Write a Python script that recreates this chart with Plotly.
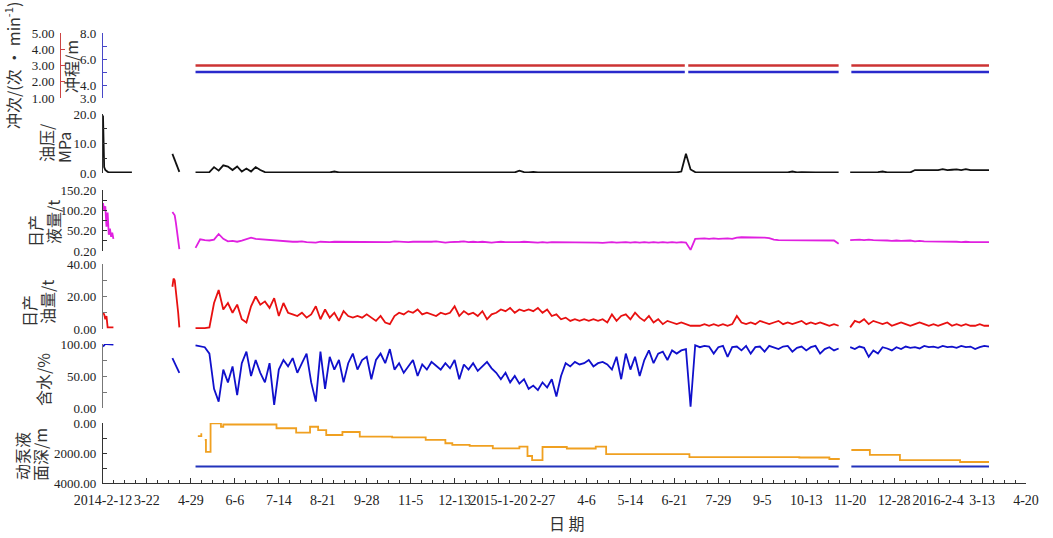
import plotly.graph_objects as go
import pandas as pd

W, H = 1053, 538

# ---------------- axis ticks ----------------
tick_dates = ['2014-02-12', '2014-03-22', '2014-04-29', '2014-06-06', '2014-07-14', '2014-08-21',
              '2014-09-28', '2014-11-05', '2014-12-13', '2015-01-20', '2015-02-27', '2015-04-06',
              '2015-05-14', '2015-06-21', '2015-07-29', '2015-09-05', '2015-10-13', '2015-11-20',
              '2015-12-28', '2016-02-04', '2016-03-13', '2016-04-20']
tick_labels = ['2014-2-12', '3-22', '4-29', '6-6', '7-14', '8-21', '9-28', '11-5', '12-13',
               '2015-1-20', '2-27', '4-6', '5-14', '6-21', '7-29', '9-5', '10-13', '11-20',
               '12-28', '2016-2-4', '3-13', '4-20']

# ---------------- data ----------------
main_start = '2014-05-03'   # sampled every 4 days
tail_start = '2015-11-20'   # sampled every 4 days

# early short records
early1_dates = ['2014-02-12', '2014-02-13', '2014-02-14', '2014-02-15', '2014-02-16',
                '2014-02-17', '2014-02-18', '2014-02-19', '2014-02-20', '2014-02-21']
early2_dates = ['2014-04-13', '2014-04-14', '2014-04-15', '2014-04-16', '2014-04-17',
                '2014-04-18', '2014-04-19']

pres_early1 = [19.5, 2.0, 1.0, 0.6, 0.4, 0.3, 0.3, 0.2, 0.2, 0.2]
pres_early1_end = ['2014-03-09', 0.2]
pres_early2 = [6.5, 5.5, 4.8, 3.5, 2.7, 1.2, 0.4]
liq_early1 = [118, 100, 110, 60, 95, 40, 55, 35, 45, 30]
liq_early2 = [96, 92, 88, 70, 50, 30, 5]
oil_early1 = [10, 9, 6, 8, 1, 1, 1, 1, 1, 1]
oil_early2 = [26, 31, 30, 23, 20, 10, 1]
wc_early1 = [96, 99, 100, 100, 100, 100, 99, 99, 99, 99]
wc_early2 = [78, 74, 70, 66, 62, 58, 55]

oil_main = [0.5, 0.5, 0.6, 1, 16, 24, 12, 16, 10, 15, 6, 4, 14, 20, 15, 17, 13, 19, 8, 16,
            10, 9, 8, 10, 7, 9, 14, 6, 12, 7, 10, 5, 11, 8, 7, 8, 7, 9, 7, 5,
            8, 4, 3, 8, 10, 9, 11, 10, 12, 9, 10, 9, 8, 10, 9, 10, 14, 8, 11, 9,
            10, 8, 11, 6, 9, 10, 12, 11, 13, 10, 12, 11, 12, 11, 13, 10, 12, 8, 9, 6,
            7, 5, 6, 5, 6, 5, 6, 5, 6, 4, 9, 5, 8,
            9, 6, 10, 7, 5, 8, 4, 6, 3, 5, 4, 3, 4, 3,
            2, 2, 2, 3, 2, 3, 2, 3, 2, 3, 8, 4, 3, 4, 3, 5, 4, 3, 4, 5,
            3, 4, 3, 4, 5, 3, 4, 3, 4, 3, 2, 3, 2]
oil_tail = [1, 5, 4, 6, 3, 5, 4, 3, 4, 2, 3, 4, 3, 2, 3, 4, 3, 2, 3, 2,
            3, 4, 2, 3, 2, 3, 2, 2, 3, 2, 2]

liq_main = [8, 29, 27, 26, 28, 42, 30, 24, 25, 23, 26, 29, 33, 30, 29, 28, 27, 26, 25, 24,
            24, 23, 23, 24, 22, 22, 21, 23, 22, 22, 23, 23, 22, 22, 23, 22, 22, 23, 22, 22,
            23, 22, 22, 24, 23, 22, 22, 23, 23, 22, 22, 23, 24, 23, 21, 22, 22, 23, 24, 22,
            23, 22, 23, 22, 21, 22, 23, 22, 22, 21, 22, 23, 22, 21, 21, 22, 21, 22, 22, 21,
            22, 21, 22, 21, 21, 22, 22, 21, 20, 21, 22, 21, 22,
            22, 21, 22, 21, 22, 21, 22, 21, 22, 21, 22, 21, 22, 21,
            3, 30, 31, 31, 30, 31, 30, 31, 31, 30, 33, 34, 34, 34, 33, 34, 33, 32, 28, 27,
            27, 26, 27, 26, 27, 26, 27, 26, 27, 26, 27, 26, 18]
liq_tail = [27, 28, 28, 27, 28, 27, 27, 26, 26, 25, 26, 25, 25, 26, 24, 25, 24, 24, 23, 24,
            23, 23, 24, 23, 22, 23, 22, 22, 23, 22, 22]

wc_main = [98, 97, 95, 85, 30, 10, 60, 40, 65, 20, 70, 88, 50, 75, 55, 40, 70, 5, 60, 75,
           65, 78, 55, 70, 85, 40, 10, 88, 30, 80, 60, 75, 40, 70, 85, 60, 75, 80, 45, 75,
           85, 70, 92, 60, 70, 55, 65, 75, 50, 68, 60, 72, 66, 60, 70, 62, 75, 45, 68, 60,
           70, 58, 65, 72, 62, 55, 45, 55, 40, 50, 38, 45, 30, 35, 28, 40, 32, 45, 18, 50,
           70, 65, 72, 68, 70, 75, 65, 70, 72, 68, 60, 80, 45,
           85, 60, 80, 50, 75, 90, 70, 85, 88, 75, 90, 85, 90, 92, 2,
           98, 95, 97, 96, 85, 95, 97, 80, 95, 96, 90, 97, 85, 95, 96, 88, 97, 95, 92, 96,
           97, 88, 94, 96, 90, 95, 97, 85, 92, 95, 90, 93]
wc_tail = [95, 92, 96, 94, 80, 90, 85, 95, 93, 90, 95, 92, 96, 94, 95, 93, 97, 95, 96, 94,
           97, 95, 96, 94, 97, 95, 96, 92, 95, 97, 96]

pres_main = [0.2, 0.2, 0.2, 0.3, 2.0, 0.8, 2.6, 2.2, 1.0, 2.2, 0.5, 1.5, 0.5, 2.0, 1.0, 0.3,
             0.2, 0.2, 0.3, 0.2, 0.2, 0.4, 0.2, 0.2, 0.2, 0.3, 0.2, 0.2, 0.2, 0.2,
             0.5, 0.2, 0.2, 0.3, 0.2, 0.2, 0.2, 0.2, 0.2, 0.2, 0.2, 0.3, 0.2, 0.2, 0.2,
             0.2, 0.2, 0.2, 0.2, 0.3, 0.2, 0.2, 0.2, 0.2, 0.2, 0.2, 0.2, 0.2, 0.2, 0.2,
             0.2, 0.2, 0.2, 0.2, 0.2, 0.2, 0.2, 0.2, 0.2, 0.2, 0.8, 0.3, 0.2, 0.4, 0.2,
             0.2, 0.3, 0.2, 0.2, 0.2, 0.2, 0.2, 0.3, 0.2, 0.2, 0.2, 0.2, 0.2, 0.2, 0.2,
             0.2, 0.3, 0.2, 0.2, 0.2, 0.3, 0.2, 0.2, 0.2, 0.2, 0.3, 0.2, 0.2, 0.2, 0.2,
             0.5, 6.5, 1.2,
             0.3, 0.2, 0.2, 0.2, 0.2, 0.2, 0.2, 0.2, 0.2, 0.2, 0.2, 0.2, 0.2, 0.2, 0.2, 0.2,
             0.2, 0.2, 0.2, 0.3, 0.2, 0.5, 0.2, 0.3, 0.2, 0.2, 0.2, 0.2, 0.2, 0.2, 0.2, 0.2]
pres_tail = [0.2, 0.2, 0.2, 0.3, 0.2, 0.2, 0.3, 0.5, 0.2, 0.2, 0.2, 0.2, 0.2, 0.2,
             1.0, 1.0, 1.2, 1.0, 1.1, 1.0, 1.3, 1.0, 1.1, 1.2, 1.0, 1.3, 1.0, 1.0, 1.0, 1.0, 1.0]

# fluid level: step records
lvl_frag_dates = ['2014-05-05', '2014-05-08']
lvl_frag = [870, 690]
lvl_dates = ['2014-05-11', '2014-05-12', '2014-05-16', '2014-05-25', '2014-05-27', '2014-07-12',
             '2014-07-29', '2014-08-10', '2014-08-17', '2014-08-24', '2014-09-07', '2014-09-22',
             '2014-10-20', '2014-11-18', '2014-12-05', '2014-12-11', '2014-12-26', '2015-01-15',
             '2015-02-07', '2015-02-14', '2015-02-18', '2015-02-27', '2015-03-20', '2015-04-14',
             '2015-04-23', '2015-07-04', '2015-10-07', '2015-11-02', '2015-11-11']
lvl_vals = [1130, 1930, 30, 250, 100, 350, 640, 250, 470, 800, 600, 910,
            960, 1130, 1350, 1460, 1530, 1690, 1580, 2200, 2470, 1600, 1700, 1580,
            2070, 2270, 2300, 2400, 2400]
lvl_tail_dates = ['2015-11-21', '2015-12-07', '2016-01-02', '2016-02-23', '2016-03-19']
lvl_tail_vals = [1800, 2130, 2470, 2600, 2600]

pump_depth = 2900
run_periods = [('2014-05-03', '2015-06-30'), ('2015-07-03', '2015-11-10'), ('2015-11-21', '2016-03-19')]
spm_value = 3.0      # 冲次
stroke_value = 5.0   # 冲程


def grid(start, vals):
    return [d.strftime('%Y-%m-%d') for d in pd.date_range(start, periods=len(vals), freq='4D')]


def join(*segs):
    xs, ys = [], []
    for sx, sy in segs:
        if xs:
            xs.append(None)
            ys.append(None)
        xs += list(sx)
        ys += list(sy)
    return xs, ys


# ---------------- layout helpers ----------------
def fx(px):
    return px / W


def fy(py):
    return 1 - py / H


panels = {  # pixel top, bottom
    1: (33, 98), 2: (114, 173), 3: (190, 251), 4: (264, 329), 5: (344, 408), 6: (423, 483)
}

SERIF = 'Liberation Serif, Times New Roman, serif'
CJK = 'Noto Sans CJK SC, sans-serif'
TICKFONT = dict(family=SERIF, size=13, color='#222')
XTICKFONT = dict(family=SERIF, size=14, color='#222')

fig = go.Figure()

# top panel lines
for i, (a, b) in enumerate(run_periods):
    fig.add_trace(go.Scatter(x=[a, b], y=[spm_value, spm_value], mode='lines', yaxis='y2',
                             line=dict(color='#cc3333', width=2.5), showlegend=False))
    fig.add_trace(go.Scatter(x=[a, b], y=[stroke_value, stroke_value], mode='lines', yaxis='y',
                             line=dict(color='#2a2acc', width=2.5), showlegend=False))

# oil pressure
x, y = join((early1_dates + [pres_early1_end[0]], pres_early1 + [pres_early1_end[1]]),
            (early2_dates, pres_early2), (grid(main_start, pres_main), pres_main),
            (grid(tail_start, pres_tail), pres_tail))
fig.add_trace(go.Scatter(x=x, y=y, mode='lines', yaxis='y3', line=dict(color='#111', width=1.8),
                         showlegend=False))

# liquid
x, y = join((early1_dates, liq_early1), (early2_dates, liq_early2),
            (grid(main_start, liq_main), liq_main), (grid(tail_start, liq_tail), liq_tail))
fig.add_trace(go.Scatter(x=x, y=y, mode='lines', yaxis='y4', line=dict(color='#e020e0', width=1.8),
                         showlegend=False))

# oil
x, y = join((early1_dates, oil_early1), (early2_dates, oil_early2),
            (grid(main_start, oil_main), oil_main), (grid(tail_start, oil_tail), oil_tail))
fig.add_trace(go.Scatter(x=x, y=y, mode='lines', yaxis='y5', line=dict(color='#e81010', width=1.8),
                         showlegend=False))

# water cut
x, y = join((early1_dates, wc_early1), (early2_dates, wc_early2),
            (grid(main_start, wc_main), wc_main), (grid(tail_start, wc_tail), wc_tail))
fig.add_trace(go.Scatter(x=x, y=y, mode='lines', yaxis='y6', line=dict(color='#1010cc', width=1.8),
                         showlegend=False))

# fluid level
x, y = join((lvl_frag_dates, lvl_frag), (lvl_dates, lvl_vals), (lvl_tail_dates, lvl_tail_vals))
fig.add_trace(go.Scatter(x=x, y=y, mode='lines', yaxis='y7', line=dict(color='#f0a020', width=1.8, shape='hv'),
                         showlegend=False))
# pump depth
x, y = join((['2014-05-03', '2015-11-10'], [pump_depth, pump_depth]),
            (['2015-11-21', '2016-03-19'], [pump_depth, pump_depth]))
fig.add_trace(go.Scatter(x=x, y=y, mode='lines', yaxis='y7', line=dict(color='#2233bb', width=2.2),
                         showlegend=False))


def yax(panel, rng, tv, tt, color='#666', **kw):
    t, b = panels[panel]
    d = dict(domain=[fy(b), fy(t)], range=rng, tickvals=tv, ticktext=tt, ticks='inside',
             ticklen=4, tickcolor=color, showline=True, linecolor=color, linewidth=1.2,
             showgrid=False, zeroline=False, tickfont=TICKFONT, anchor='x', fixedrange=True,
             automargin=False, ticklabelstandoff=3)
    d.update(kw)
    return d


fig.update_layout(
    template='none',
    width=W, height=H, margin=dict(l=0, r=0, t=0, b=0, pad=0, autoexpand=False),
    plot_bgcolor='white', paper_bgcolor='white', showlegend=False,
    xaxis=dict(domain=[fx(103), fx(1026)], range=[tick_dates[0], tick_dates[-1]], anchor='y7',
               tickvals=tick_dates, ticktext=tick_labels, ticks='inside', ticklen=5,
               tickcolor='#333', showline=True, linecolor='#333', linewidth=1.2,
               showgrid=False, zeroline=False, tickfont=XTICKFONT, tickangle=0, automargin=False,
               ticklabelstandoff=4, fixedrange=True,
               minor=dict(ticks='inside', ticklen=3, tickcolor='#333', showgrid=False,
                          dtick=9.5 * 86400000, tick0='2014-02-12')),
    yaxis=yax(1, [3, 8], [3, 4, 5, 6, 7, 8], ['3.0', '4.0', '', '6.0', '', '8.0'], color='#4848c8'),
    yaxis2=yax(1, [1, 5], [1, 2, 3, 4, 5], ['1.00', '2.00', '3.00', '4.00', '5.00'], color='#cc4444',
               overlaying='y', anchor='free', position=fx(60)),
    yaxis3=yax(2, [0, 20], [0, 5, 10, 15, 20], ['0.0', '', '10.0', '', '20.0'], color='#333'),
    yaxis4=yax(3, [0.2, 150.2], [0.2, 25.2, 50.2, 75.2, 100.2, 125.2, 150.2],
               ['0.20', '', '50.20', '', '100.20', '', '150.20'], color='#333'),
    yaxis5=yax(4, [0, 40], [0, 10, 20, 30, 40], ['0.00', '', '20.00', '', '40.00'], color='#777'),
    yaxis6=yax(5, [0, 100], [0, 25, 50, 75, 100], ['0.00', '', '50.00', '', '100.00'], color='#777'),
    yaxis7=yax(6, [4000, 0], [0, 1000, 2000, 3000, 4000], ['0.00', '', '2000.00', '', '4000.00'],
               color='#333'),
)

ann_font = dict(family=CJK, size=16, color='#333')
titles = [  # text, center x px, center y px
    ('冲次/(次 • min<sup>-1</sup>)', 12, 66),
    ('冲程/m', 71, 67),
    ('油压/', 46, 143),
    ('MPa', 64, 148),
    ('日产', 35, 231),
    ('液量/t', 53, 222),
    ('日产', 29, 311),
    ('油量/t', 47, 302),
    ('含水/%', 43, 380),
    ('动泵液', 22, 456),
    ('面深/m', 40, 455),
]
for txt, px, py in titles:
    fig.add_annotation(text=txt, x=fx(px), y=fy(py), xref='paper', yref='paper', showarrow=False,
                       textangle=-90, font=ann_font, xanchor='center', yanchor='middle')
fig.add_annotation(text='日 期', x=fx(567), y=fy(523), xref='paper', yref='paper', showarrow=False,
                   font=ann_font, xanchor='center', yanchor='middle')

fig.write_html('out.html', config={'displayModeBar': False, 'staticPlot': True},
               post_script="document.body.style.margin='0';document.body.style.padding='0';"
                           "document.body.style.overflow='hidden';")
